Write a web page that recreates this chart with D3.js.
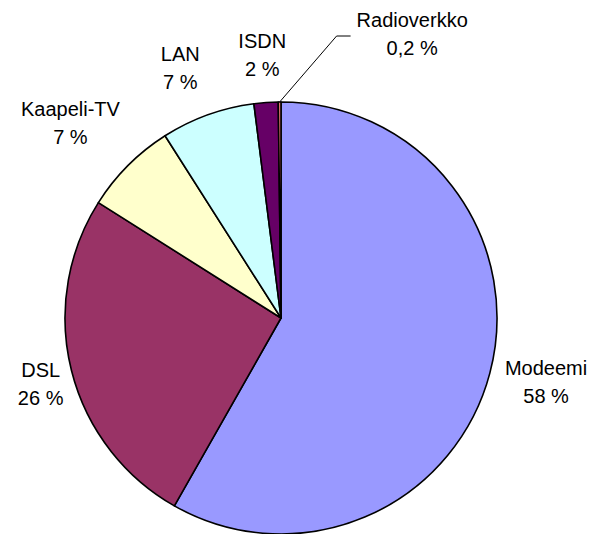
<!DOCTYPE html>
<html>
<head>
<meta charset="utf-8">
<script src="https://cdn.jsdelivr.net/npm/d3@7"></script>
<style>
  html, body { margin: 0; padding: 0; background: #fff; }
  svg { display: block; }
  text { font-family: "Liberation Sans", Arial, sans-serif; font-size: 20px; fill: #000; }
</style>
</head>
<body>
<svg id="chart" width="592" height="534"></svg>
<script>
// connection types (share of households, %)
const categories = ["Modeemi", "DSL", "Kaapeli-TV", "LAN", "ISDN", "Radioverkko"];
const values = [58.1, 25.7, 7.0, 7.0, 1.8, 0.2];
const valueLabels = ["58 %", "26 %", "7 %", "7 %", "2 %", "0,2 %"];
const colors = ["#9999FF", "#993366", "#FFFFCC", "#CCFFFF", "#660066", "#FF8080"];

const svg = d3.select("#chart");
const cx = 281, cy = 318, radius = 216;

const data = categories.map((c, i) => ({ name: c, value: values[i], label: valueLabels[i], color: colors[i] }));

const pie = d3.pie().sort(null).value(d => d.value);
const arc = d3.arc().innerRadius(0).outerRadius(radius);
const arcs = pie(data);

const g = svg.append("g").attr("transform", `translate(${cx},${cy})`);

g.selectAll("path")
  .data(arcs)
  .enter()
  .append("path")
  .attr("d", arc)
  .attr("fill", d => d.data.color)
  .attr("stroke", "#000")
  .attr("stroke-width", 1.6)
  .attr("stroke-linejoin", "round");

// labels sit just outside the pie, then hand-moved a bit like in the original
const gap = 17;
const nudge = [[0, -2], [8, 3], [-10, -13], [-15, -7], [-1, -6], [133, -26]];

const labels = g.selectAll("g.lbl")
  .data(arcs)
  .enter()
  .append("g")
  .attr("class", "lbl");

labels.each(function(d, i) {
  const sel = d3.select(this);
  const t = sel.append("text").attr("text-anchor", "middle");
  t.append("tspan").attr("x", 0).attr("y", 0).text(d.data.name);
  t.append("tspan").attr("x", 0).attr("y", 28).text(d.data.label);
  const bb = t.node().getBBox();
  const a = (d.startAngle + d.endAngle) / 2;
  const dx = Math.sin(a), dy = -Math.cos(a);
  const px = dx * (radius + gap) + dx * bb.width / 2 + nudge[i][0];
  const py = dy * (radius + gap) + dy * bb.height / 2 + nudge[i][1];
  const tx = px - (bb.x + bb.width / 2);
  const ty = py - (bb.y + bb.height / 2);
  sel.attr("transform", `translate(${tx},${ty})`);
  d.box = { x: bb.x + tx, y: bb.y + ty, w: bb.width, h: bb.height };
});

// leader line for the tiny slice
const last = arcs[arcs.length - 1];
const la = (last.startAngle + last.endAngle) / 2;
const start = [Math.sin(la) * radius, -Math.cos(la) * radius];
const end = [last.box.x - 6, last.box.y + last.box.h / 2 + 2];
const elbow = [end[0] - 14, end[1]];
g.append("path")
  .attr("d", d3.line()([start, elbow, end]))
  .attr("fill", "none")
  .attr("stroke", "#000")
  .attr("stroke-width", 1);
</script>
</body>
</html>
